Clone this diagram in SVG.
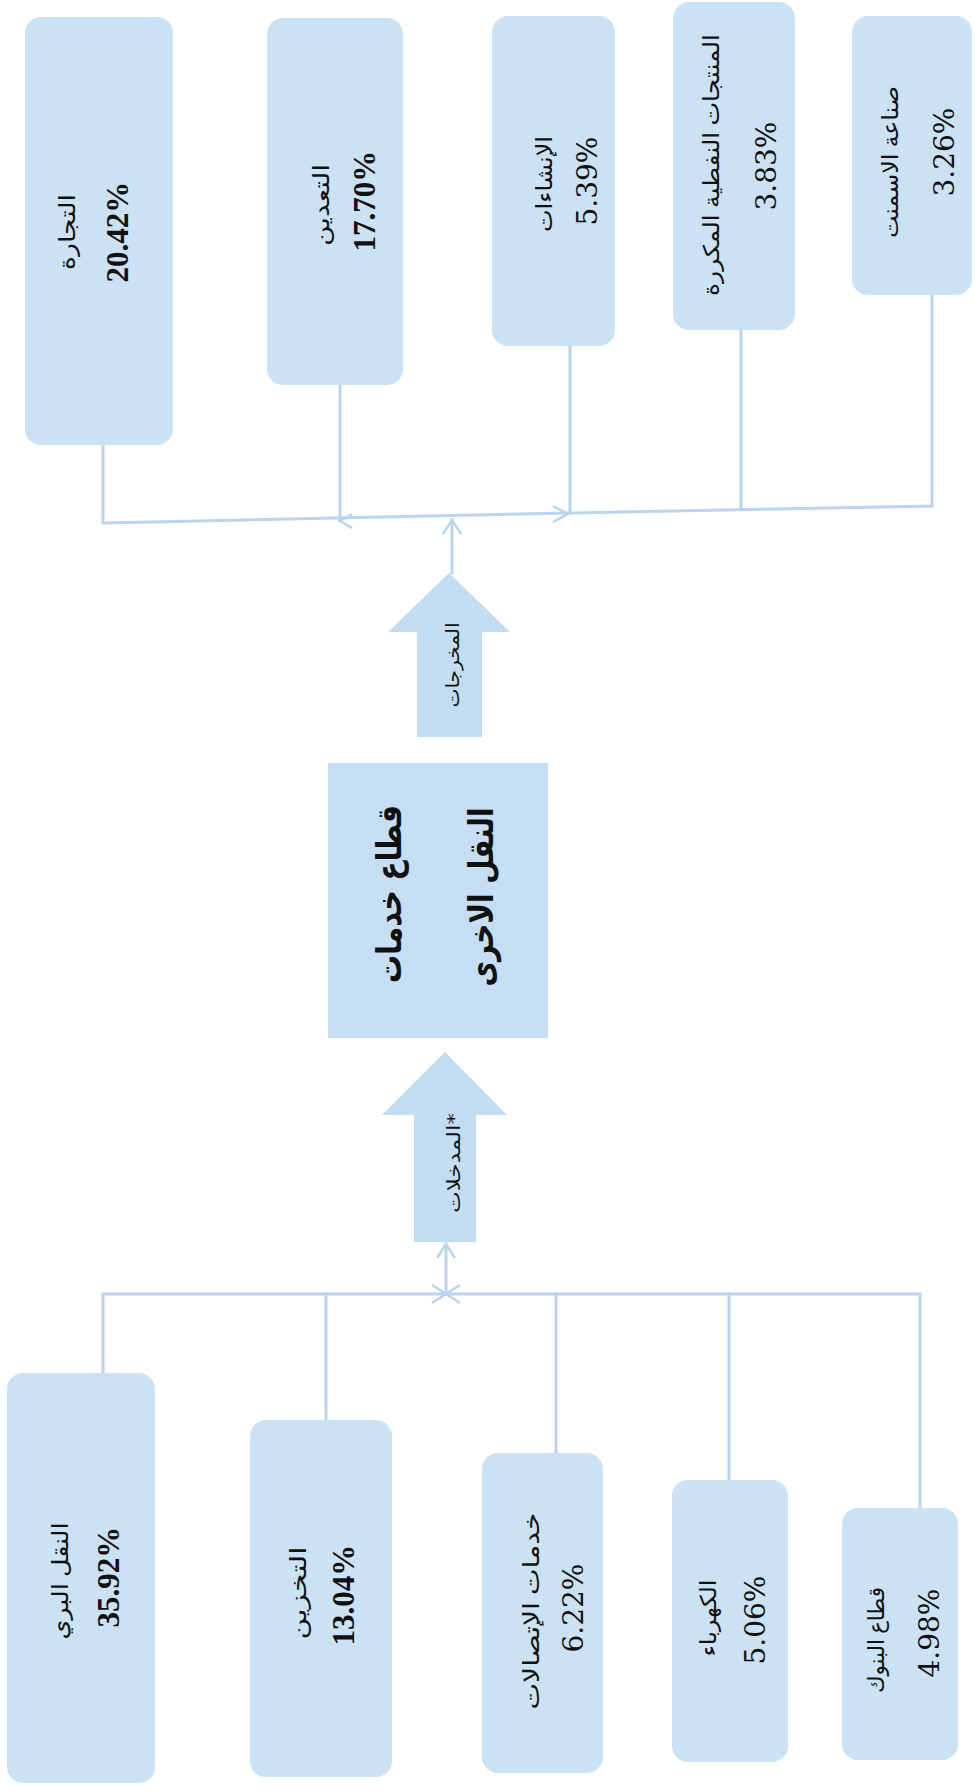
<svg xmlns="http://www.w3.org/2000/svg" width="975" height="1791" viewBox="0 0 975 1791">
<style>
.box{fill:#cbe1f4;}
.ctr{fill:#c5def3;}
.big{fill:#c2dcf2;}
.ln{fill:none;stroke:#b9d5ee;stroke-width:3;stroke-linecap:square;}
.ah{fill:none;stroke:#b9d5ee;stroke-width:2.5;stroke-linejoin:miter;}
.lab{font-family:'Liberation Serif','DejaVu Sans',serif;font-size:22px;fill:#111;text-anchor:middle;}
.numb{font-family:'Liberation Serif',serif;font-size:31px;font-weight:bold;fill:#111;text-anchor:middle;}
.numr{font-family:'DejaVu Serif',serif;font-size:28px;fill:#111;text-anchor:middle;}
.ct{font-family:'DejaVu Sans',sans-serif;font-size:34px;font-weight:bold;fill:#111;text-anchor:middle;}
.at{font-family:'DejaVu Sans',sans-serif;font-size:18px;fill:#111;text-anchor:middle;}
</style>
<rect width="975" height="1791" fill="#ffffff"/>

<g id="connectors">
  <!-- outputs tree (top) -->
  <polyline class="ln" points="103,445 103,523 570,513 932,506 932,295"/>
  <line class="ln" x1="340" y1="385" x2="340" y2="521"/>
  <line class="ln" x1="570" y1="346" x2="570" y2="513"/>
  <line class="ln" x1="741" y1="330" x2="741" y2="509"/>
  <line class="ln" x1="452" y1="573" x2="452" y2="520"/>
  <polyline class="ah" points="443,534 452,520 461,534"/>
  <polyline class="ah" points="553,506 568,514 553,522"/>
  <polyline class="ah" points="352,514 340,521 352,528"/>
  <!-- inputs tree (bottom) -->
  <polyline class="ln" points="103,1373 103,1294 920,1294 920,1508"/>
  <line class="ln" x1="326" y1="1294" x2="326" y2="1420"/>
  <line class="ln" x1="556" y1="1294" x2="556" y2="1453"/>
  <line class="ln" x1="729" y1="1294" x2="729" y2="1480"/>
  <line class="ln" x1="446" y1="1294" x2="446" y2="1244"/>
  <polyline class="ah" points="437,1258 446,1244 455,1258"/>
  <polyline class="ah" points="432,1285 446,1294 432,1303"/>
  <polyline class="ah" points="460,1285 446,1294 460,1303"/>
</g>

<g id="node-trade">
  <rect class="box" x="25" y="17" width="148" height="428" rx="16"/>
  <text class="lab" transform="translate(75,232) rotate(-90)" textLength="76" lengthAdjust="spacingAndGlyphs">التجارة</text>
  <text class="numb" transform="translate(128,232) rotate(-90)">20.42%</text>
</g>
<g id="node-mining">
  <rect class="box" x="267" y="18" width="136" height="367" rx="16"/>
  <text class="lab" transform="translate(329,205) rotate(-90)" textLength="82" lengthAdjust="spacingAndGlyphs">التعدين</text>
  <text class="numb" transform="translate(375,201) rotate(-90)">17.70%</text>
</g>
<g id="node-construction">
  <rect class="box" x="492" y="16" width="123" height="330" rx="16"/>
  <text class="lab" transform="translate(552,184) rotate(-90)" textLength="96" lengthAdjust="spacingAndGlyphs">الإنشاءات</text>
  <text class="numr" transform="translate(597,181) rotate(-90)">5.39%</text>
</g>
<g id="node-refined-oil">
  <rect class="box" x="673" y="2" width="122" height="328" rx="16"/>
  <text class="lab" transform="translate(719,165) rotate(-90)" textLength="262" lengthAdjust="spacingAndGlyphs">المنتجات النفطية المكررة</text>
  <text class="numr" transform="translate(776,166) rotate(-90)">3.83%</text>
</g>
<g id="node-cement">
  <rect class="box" x="852" y="16" width="120" height="279" rx="16"/>
  <text class="lab" transform="translate(898,162) rotate(-90)" textLength="152" lengthAdjust="spacingAndGlyphs">صناعة الاسمنت</text>
  <text class="numr" transform="translate(954,152) rotate(-90)">3.26%</text>
</g>

<g id="node-outputs-arrow">
  <polygon class="big" points="449,573 510,632 482,632 482,737 417,737 417,632 388,632"/>
  <text class="at" transform="translate(459,665) rotate(-90)" textLength="85" lengthAdjust="spacingAndGlyphs">المخرجات</text>
</g>

<g id="node-center">
  <rect class="ctr" x="328" y="763" width="220" height="275"/>
  <text class="ct" transform="translate(401,894) rotate(-90)" textLength="178" lengthAdjust="spacingAndGlyphs">قطاع خدمات</text>
  <text class="ct" transform="translate(493,897) rotate(-90)" textLength="179" lengthAdjust="spacingAndGlyphs">النقل الاخرى</text>
</g>

<g id="node-inputs-arrow">
  <polygon class="big" points="445,1052 507,1115 476,1115 476,1242 414,1242 414,1115 382,1115"/>
  <text class="at" transform="translate(460,1163) rotate(-90)" textLength="100" lengthAdjust="spacingAndGlyphs">المدخلات*</text>
</g>

<g id="node-land-transport">
  <rect class="box" x="7" y="1373" width="148" height="410" rx="16"/>
  <text class="lab" transform="translate(68,1581) rotate(-90)" textLength="117" lengthAdjust="spacingAndGlyphs">النقل البري</text>
  <text class="numb" transform="translate(119,1577) rotate(-90)">35.92%</text>
</g>
<g id="node-storage">
  <rect class="box" x="250" y="1420" width="142" height="357" rx="16"/>
  <text class="lab" transform="translate(306,1593) rotate(-90)" textLength="93" lengthAdjust="spacingAndGlyphs">التخزين</text>
  <text class="numb" transform="translate(354,1595) rotate(-90)">13.04%</text>
</g>
<g id="node-telecom">
  <rect class="box" x="482" y="1453" width="121" height="320" rx="16"/>
  <text class="lab" transform="translate(539,1611) rotate(-90)" textLength="197" lengthAdjust="spacingAndGlyphs">خدمات الإتصالات</text>
  <text class="numr" transform="translate(583,1608) rotate(-90)">6.22%</text>
</g>
<g id="node-electricity">
  <rect class="box" x="672" y="1480" width="116" height="282" rx="16"/>
  <text class="lab" transform="translate(716,1618) rotate(-90)" textLength="77" lengthAdjust="spacingAndGlyphs">الكهرباء</text>
  <text class="numr" transform="translate(765,1620) rotate(-90)">5.06%</text>
</g>
<g id="node-banks">
  <rect class="box" x="842" y="1508" width="116" height="252" rx="16"/>
  <text class="lab" transform="translate(884,1640) rotate(-90)" textLength="106" lengthAdjust="spacingAndGlyphs">قطاع البنوك</text>
  <text class="numr" transform="translate(939,1633) rotate(-90)">4.98%</text>
</g>
</svg>
